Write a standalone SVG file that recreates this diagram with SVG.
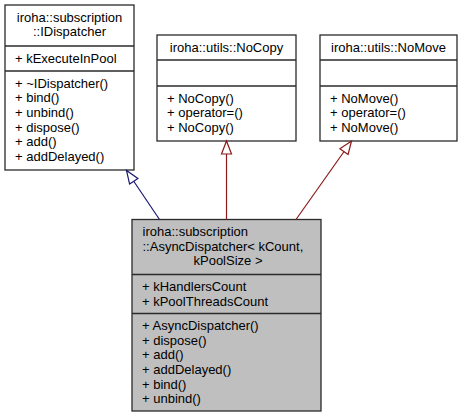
<svg xmlns="http://www.w3.org/2000/svg" width="464" height="419" viewBox="0 0 464 419">
<style>
  .box { fill: #ffffff; stroke: #2a2a2a; stroke-width: 1.3; }
  .cur { fill: #bfbfbf; stroke: #2a2a2a; stroke-width: 1.3; }
  .div { stroke: #2a2a2a; stroke-width: 1.3; }
  text { font-family: "Liberation Sans", Arial, Helvetica, sans-serif; font-size: 13px; fill: #000000; }
  .c { text-anchor: middle; }
  .l { text-anchor: start; }
  .pub { stroke: #191970; stroke-width: 1.2; fill: none; }
  .priv { stroke: #8b1a1a; stroke-width: 1.2; fill: none; }
</style>
<defs>
  <marker id="arrBlue" viewBox="0 0 13 10" refX="13" refY="5" markerWidth="13" markerHeight="10" markerUnits="userSpaceOnUse" orient="auto" overflow="visible">
    <path d="M0,0 L13,5 L0,10 Z" fill="#ffffff" stroke="#191970" stroke-width="1.2"/>
  </marker>
  <marker id="arrRed" viewBox="0 0 13 10" refX="13" refY="5" markerWidth="13" markerHeight="10" markerUnits="userSpaceOnUse" orient="auto" overflow="visible">
    <path d="M0,0 L13,5 L0,10 Z" fill="#ffffff" stroke="#8b1a1a" stroke-width="1.2"/>
  </marker>
</defs>

<g id="IDispatcher">
  <rect class="box" x="5" y="5" width="129" height="165"/>
  <line class="div" x1="5" y1="46" x2="134" y2="46"/>
  <line class="div" x1="5" y1="71" x2="134" y2="71"/>
  <text class="c" x="69.5" y="21.5">iroha::subscription</text>
  <text class="c" x="69.5" y="36.2">::IDispatcher</text>
  <text class="l" x="15" y="62.5">+ kExecuteInPool</text>
  <text class="l" x="15" y="87.5">+ ~IDispatcher()</text>
  <text class="l" x="15" y="102.2">+ bind()</text>
  <text class="l" x="15" y="116.8">+ unbind()</text>
  <text class="l" x="15" y="131.5">+ dispose()</text>
  <text class="l" x="15" y="146.2">+ add()</text>
  <text class="l" x="15" y="160.8">+ addDelayed()</text>
</g>

<g id="NoCopy">
  <rect class="box" x="157" y="35" width="139" height="106"/>
  <line class="div" x1="157" y1="60" x2="296" y2="60"/>
  <line class="div" x1="157" y1="86" x2="296" y2="86"/>
  <text class="c" x="226.5" y="51.5">iroha::utils::NoCopy</text>
  <text class="l" x="167" y="102.5">+ NoCopy()</text>
  <text class="l" x="167" y="117.2">+ operator=()</text>
  <text class="l" x="167" y="131.8">+ NoCopy()</text>
</g>

<g id="NoMove">
  <rect class="box" x="320" y="35" width="137" height="106"/>
  <line class="div" x1="320" y1="60" x2="457" y2="60"/>
  <line class="div" x1="320" y1="86" x2="457" y2="86"/>
  <text class="c" x="388.5" y="51.5">iroha::utils::NoMove</text>
  <text class="l" x="330" y="102.5">+ NoMove()</text>
  <text class="l" x="330" y="117.2">+ operator=()</text>
  <text class="l" x="330" y="131.8">+ NoMove()</text>
</g>

<g id="AsyncDispatcher">
  <rect class="cur" x="132" y="219.5" width="189" height="191.5"/>
  <line class="div" x1="132" y1="274.5" x2="321" y2="274.5"/>
  <line class="div" x1="132" y1="313.5" x2="321" y2="313.5"/>
  <text class="l" x="142.5" y="236">iroha::subscription</text>
  <text class="l" x="142.5" y="250.7">::AsyncDispatcher&lt; kCount,</text>
  <text class="c" x="228" y="265.3">kPoolSize &gt;</text>
  <text class="l" x="142" y="291">+ kHandlersCount</text>
  <text class="l" x="142" y="305.7">+ kPoolThreadsCount</text>
  <text class="l" x="142" y="330">+ AsyncDispatcher()</text>
  <text class="l" x="142" y="344.7">+ dispose()</text>
  <text class="l" x="142" y="359.3">+ add()</text>
  <text class="l" x="142" y="374">+ addDelayed()</text>
  <text class="l" x="142" y="388.7">+ bind()</text>
  <text class="l" x="142" y="403.3">+ unbind()</text>
</g>

<g id="connectors">
  <line class="pub" x1="159.5" y1="219.5" x2="126.5" y2="170.5" marker-end="url(#arrBlue)"/>
  <line class="priv" x1="226.5" y1="219.5" x2="226.5" y2="141" marker-end="url(#arrRed)"/>
  <line class="priv" x1="296" y1="219.5" x2="351.5" y2="141" marker-end="url(#arrRed)"/>
</g>
</svg>
